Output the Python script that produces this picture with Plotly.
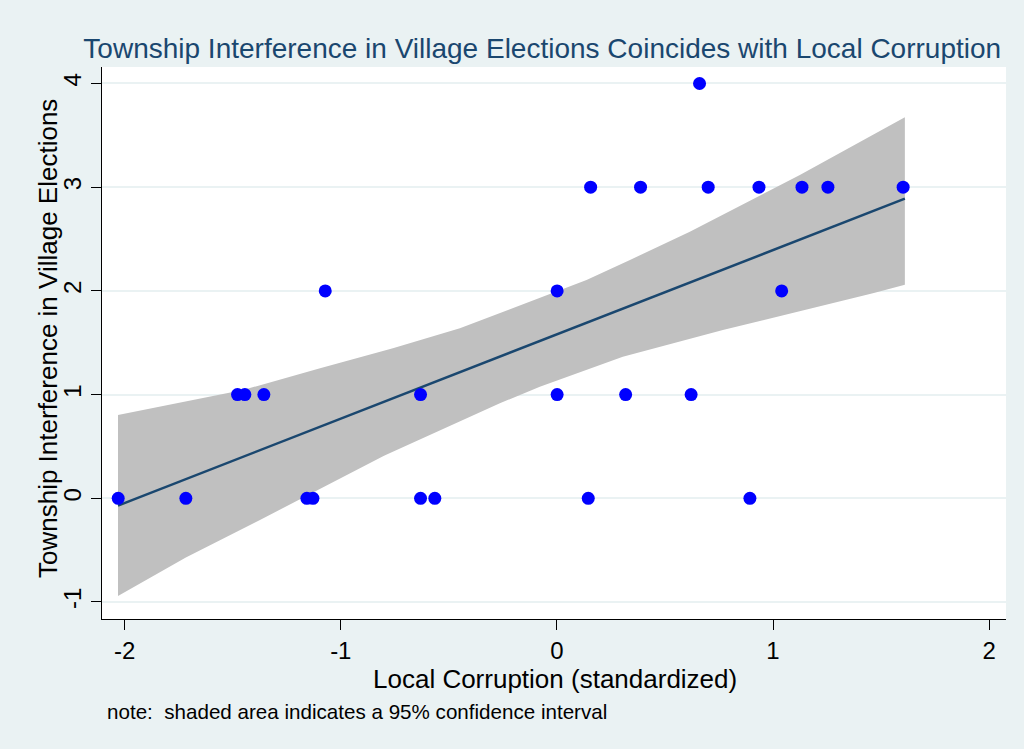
import plotly.graph_objects as go

# Observed villages: local corruption (standardized) vs township interference
corruption = [-2.030, -1.717, -1.157, -1.129, -0.631, -0.565, 0.145, 0.893,
              -1.478, -1.444, -1.356, -0.631, 0.001, 0.318, 0.621,
              -1.072, 0.001, 1.040,
              0.156, 0.387, 0.700, 0.935, 1.134, 1.254, 1.602,
              0.660]
interference = [0, 0, 0, 0, 0, 0, 0, 0,
                1, 1, 1, 1, 1, 1, 1,
                2, 2, 2,
                3, 3, 3, 3, 3, 3, 3,
                4]

# Linear fit
fit_x = [-2.031, 1.610]
fit_y = [-0.07, 2.889]

# 95% confidence band edges
ci_upper_x = [-2.031, -1.783, -1.453, -1.096, -0.759, -0.449, 0.137, 0.338, 0.615, 1.124, 1.610]
ci_upper_y = [0.803, 0.909, 1.044, 1.254, 1.446, 1.639, 2.105, 2.298, 2.571, 3.118, 3.674]
ci_lower_x = [-2.031, -1.717, -1.374, -0.800, -0.264, -0.079, 0.305, 0.768, 1.462, 1.610]
ci_lower_y = [-0.942, -0.570, -0.209, 0.410, 0.916, 1.076, 1.365, 1.623, 1.977, 2.060]

x_ticks = [-2, -1, 0, 1, 2]
y_ticks = [-1, 0, 1, 2, 3, 4]

BG = "#EAF2F3"
NAVY = "#1a476f"
FONT = "Liberation Sans, Arial, sans-serif"

fig = go.Figure()

band_x = ci_upper_x + ci_lower_x[::-1]
band_y = ci_upper_y + ci_lower_y[::-1]
fig.add_trace(go.Scatter(x=band_x, y=band_y, fill="toself", mode="lines",
                         line=dict(width=0, color="#C0C0C0"),
                         fillcolor="#C0C0C0", hoverinfo="skip", showlegend=False))
fig.add_trace(go.Scatter(x=fit_x, y=fit_y, mode="lines",
                         line=dict(color=NAVY, width=2.5), showlegend=False))
fig.add_trace(go.Scatter(x=corruption, y=interference, mode="markers",
                         marker=dict(color="#0000FF", size=13, line=dict(width=0)),
                         showlegend=False))

fig.update_layout(
    width=1024, height=749, autosize=False,
    margin=dict(l=102, r=18, t=67, b=130),
    paper_bgcolor=BG, plot_bgcolor="white",
    font=dict(family=FONT, color="black"),
    title=dict(text="Township Interference in Village Elections Coincides with Local Corruption",
               font=dict(size=28, color=NAVY, family=FONT),
               x=0.487, xref="paper", xanchor="center",
               y=1 - 48 / 749, yref="container", yanchor="middle"),
    xaxis=dict(range=[-2.105, 2.078], tickvals=x_ticks, ticktext=[str(v) for v in x_ticks],
               showgrid=False, zeroline=False,
               showline=True, linecolor="black", linewidth=1.2,
               ticks="outside", ticklen=10, tickcolor="black", tickwidth=1,
               tickfont=dict(size=24, family=FONT)),
    yaxis=dict(range=[-1.164, 4.159], tickvals=y_ticks, ticktext=[str(v) for v in y_ticks],
               showgrid=True, gridcolor=BG, gridwidth=2, zeroline=False,
               showline=True, linecolor="black", linewidth=1.2,
               ticks="outside", ticklen=10, tickcolor="black", tickwidth=1,
               tickangle=-90, tickfont=dict(size=24, family=FONT), ticklabelstandoff=0),
    annotations=[
        dict(text="Township Interference in Village Elections", textangle=-90,
             xref="paper", yref="paper", x=-(102 - 48) / 904, y=(619 - 339) / 552,
             xanchor="center", yanchor="middle", showarrow=False,
             font=dict(size=26, family=FONT, color="black")),
        dict(text="Local Corruption (standardized)",
             xref="paper", yref="paper", x=(555 - 102) / 904, y=-(679 - 619) / 552,
             xanchor="center", yanchor="middle", showarrow=False,
             font=dict(size=26, family=FONT, color="black")),
        dict(text="note:  shaded area indicates a 95% confidence interval",
             xref="paper", yref="paper", x=(105 - 102) / 904, y=-(711 - 619) / 552,
             xanchor="left", yanchor="middle", showarrow=False,
             font=dict(size=20.6, family=FONT, color="black")),
    ],
)

fig.write_html("out.html", config={"displayModeBar": False},
               post_script="document.body.style.margin='0';document.body.style.background='%s';" % BG)
